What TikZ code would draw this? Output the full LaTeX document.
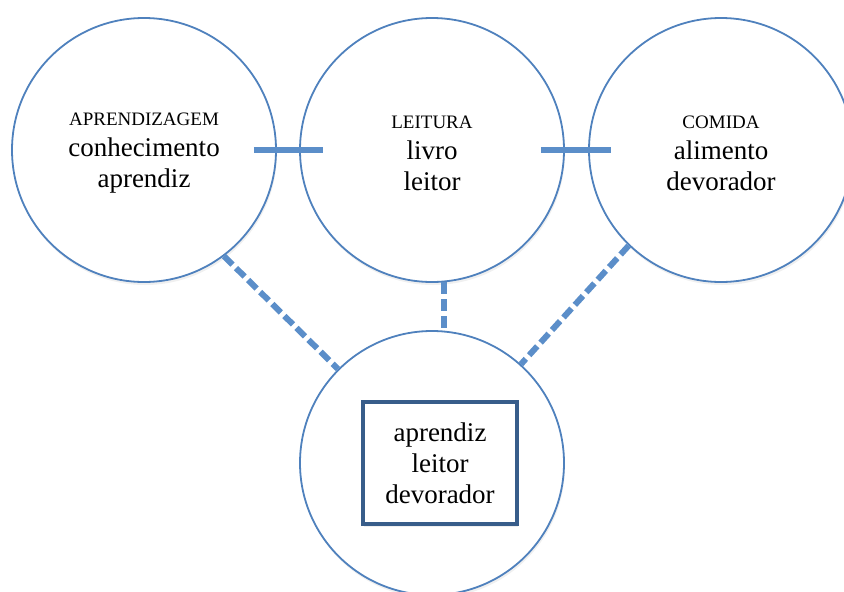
\documentclass[tikz,border=0pt]{standalone}
\usepackage{fontspec}
\setmainfont{Liberation Serif}
\usetikzlibrary{shadows}
\definecolor{ringblue}{HTML}{4F81BD}
\definecolor{boxblue}{HTML}{385D8A}
\definecolor{linkblue}{HTML}{5B8EC9}
\newcommand{\head}[1]{{\fontsize{19}{24}\selectfont\rule{0pt}{19pt}#1}}

\begin{document}
\begin{tikzpicture}[x=1pt,y=-1pt,
  ring/.style={circle, draw=ringblue, line width=1.8pt, fill=white,
    minimum size=264pt, inner sep=0pt, align=center,
    font=\fontsize{27}{31}\selectfont,
    drop shadow={shadow xshift=1pt, shadow yshift=-3pt, opacity=0.12}},
  namebox/.style={draw=boxblue, line width=3.2pt, fill=white,
    minimum width=154pt, minimum height=122pt, align=center,
    font=\fontsize{27}{31}\selectfont,
    drop shadow={shadow xshift=1pt, shadow yshift=-3pt, opacity=0.12}},
  link/.style={draw=linkblue, line width=6pt},
  dashlink/.style={link, dash pattern=on 12pt off 5pt}]
\useasboundingbox (0,0) rectangle (844,592);
%draw circles:
\node[ring] (learn) at (144,150) {\head{APRENDIZAGEM}\\conhecimento\\aprendiz};
\node[ring] (read) at (432,150) {\head{LEITURA}\\livro\\leitor};
\node[ring] (food) at (721,150) {\head{COMIDA}\\alimento\\devorador};
\node[ring] (eater) at (432,463) {};
\node[namebox] (team) at ([xshift=8pt]eater.center) {aprendiz\\leitor\\devorador};
%draw links:
\draw[link] ([xshift=-23pt]learn.east) -- ([xshift=24pt]read.west);
\draw[link] ([xshift=-24pt]read.east) -- ([xshift=23pt]food.west);
\draw[dashlink] (learn.-53) -- (eater.135);
\draw[dashlink] (read.-85) -- (eater.85);
\draw[dashlink] (food.-134) -- (eater.48);
\end{tikzpicture}
\end{document}
